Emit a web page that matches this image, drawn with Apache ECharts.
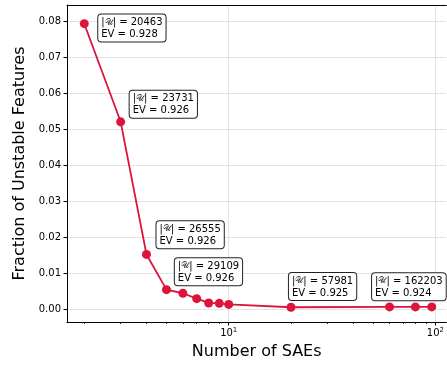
<!DOCTYPE html>
<html><head><meta charset="utf-8">
<script src="https://cdn.jsdelivr.net/npm/echarts@6/dist/echarts.min.js"></script>
<style>html,body{margin:0;padding:0;background:#fff}#c{width:447px;height:365px}</style>
</head><body><div id="c"></div>
<script>
// ---- data ----
const numSAEs = [2, 3, 4, 5, 6, 7, 8, 9, 10, 20, 60, 80, 96];
const fractionUnstable = [0.0794, 0.0521, 0.0152, 0.0054, 0.0044, 0.0029, 0.0017, 0.0016, 0.0013, 0.0005, 0.0006, 0.0006, 0.0006];
const annotatedSAEs = [2, 3, 4, 5, 20, 60];
const uniqueFeatures = [20463, 23731, 26555, 29109, 57981, 162203];
const explainedVar = ['0.928', '0.926', '0.926', '0.926', '0.925', '0.924'];
const yTicks = [0, 0.01, 0.02, 0.03, 0.04, 0.05, 0.06, 0.07, 0.08];
const xMajorTicks = [10, 100];
const xMinorTicks = [2, 3, 4, 5, 6, 7, 8, 9, 20, 30, 40, 50, 60, 70, 80, 90];

// ---- layout (label placement relative to symbol box) ----
const labelPos = [[18.5, -4.8], [13.5, -26.5], [14.5, -28.8], [12.8, -26.9], [2.5, -29.8], [-13, -29.2]];

const FONT = 'DejaVu Sans';
const RED = '#dc143c';
const X_MIN = 1.650, X_MAX = 113.0;

const seriesData = numSAEs.map((x, i) => {
  const item = { value: [x, fractionUnstable[i]] };
  const k = annotatedSAEs.indexOf(x);
  if (k >= 0) {
    item.label = {
      show: true,
      position: labelPos[k],
      formatter: '|{cal|\u{1D4B0}}| = ' + uniqueFeatures[k] + '\nEV = ' + explainedVar[k]
    };
  }
  return item;
});

const chart = echarts.init(document.getElementById('c'), null, { renderer: 'canvas' });
chart.setOption({
  animation: false,
  textStyle: { fontFamily: FONT },
  grid: { left: 67, top: 5, right: 0, height: 318, show: false },
  xAxis: [{
    type: 'log', logBase: 10, min: X_MIN, max: X_MAX,
    name: 'Number of SAEs', nameLocation: 'middle', nameGap: 22,
    nameTextStyle: { fontSize: 16, color: '#000', fontFamily: FONT },
    axisLine: { onZero: false, lineStyle: { color: '#000', width: 1 } },
    axisTick: { customValues: xMajorTicks, length: 3.5, lineStyle: { color: '#000', width: 1 } },
    axisLabel: {
      customValues: xMajorTicks, fontSize: 10, color: '#000', margin: 5, fontFamily: FONT,
      formatter: v => '10{sup|' + Math.round(Math.log10(v)) + '}',
      rich: { sup: { fontSize: 7, verticalAlign: 'top', padding: [0, 0, 6, 0], color: '#000', fontFamily: FONT } }
    },
    splitLine: { show: true, lineStyle: { color: '#e3e3e3', width: 1 } }
  }, {
    type: 'log', logBase: 10, min: X_MIN, max: X_MAX, position: 'bottom',
    axisLine: { show: false, onZero: false },
    axisTick: { customValues: xMinorTicks, length: 2, lineStyle: { color: '#000', width: 0.8 } },
    axisLabel: { show: false },
    splitLine: { show: false }
  }, {
    type: 'log', logBase: 10, min: X_MIN, max: X_MAX, position: 'top',
    axisLine: { show: true, onZero: false, lineStyle: { color: '#000', width: 1 } },
    axisTick: { show: false },
    axisLabel: { show: false },
    splitLine: { show: false }
  }],
  yAxis: {
    type: 'value', min: -0.0036, max: 0.0846, splitNumber: 9,
    name: 'Fraction of Unstable Features', nameLocation: 'middle', nameGap: 38,
    nameTextStyle: { fontSize: 16, color: '#000', fontFamily: FONT },
    axisLine: { show: true, onZero: false, lineStyle: { color: '#000', width: 1 } },
    axisTick: { show: true, customValues: yTicks, length: 3.5, lineStyle: { color: '#000', width: 1 } },
    axisLabel: { customValues: yTicks, fontSize: 10, color: '#000', margin: 6, fontFamily: FONT, formatter: v => v.toFixed(2) },
    splitLine: { show: true, lineStyle: { color: '#e3e3e3', width: 1 } }
  },
  series: [{
    type: 'line', xAxisIndex: 0, data: seriesData,
    symbol: 'circle', symbolSize: 9, showAllSymbol: true,
    lineStyle: { color: RED, width: 1.8 },
    itemStyle: { color: RED },
    label: {
      fontSize: 10, color: '#000', fontFamily: FONT, lineHeight: 12,
      backgroundColor: '#fff', borderColor: '#222', borderWidth: 1, borderRadius: 3,
      padding: [2, 3, 1, 3], align: 'left', verticalAlign: 'top',
      rich: { cal: { fontSize: 8.5, color: '#333', fontFamily: FONT, lineHeight: 12 } }
    },
    emphasis: { disabled: true },
    z: 3
  }]
});
</script></body></html>
